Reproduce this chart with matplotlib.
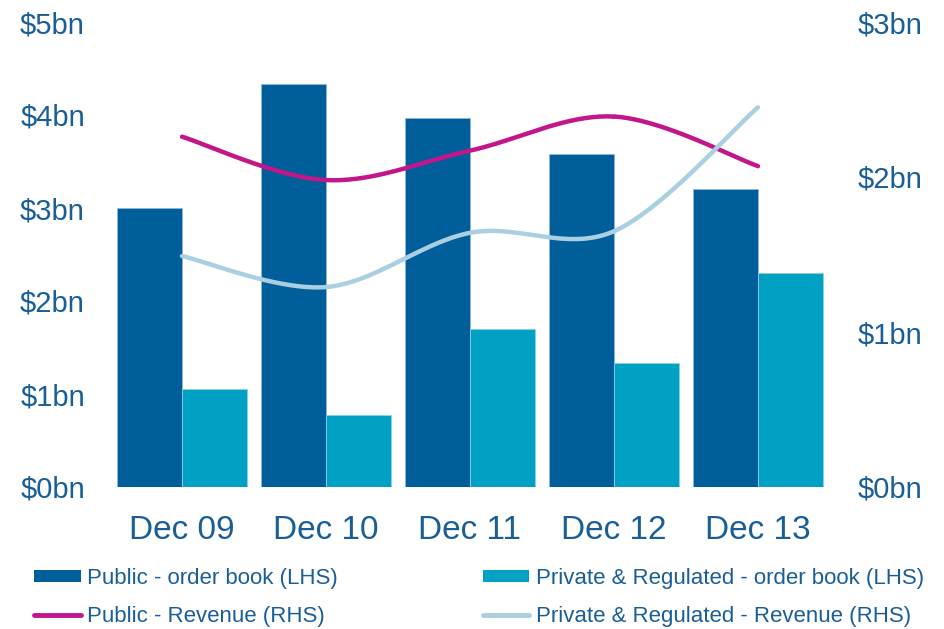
import numpy as np
import matplotlib
matplotlib.use("Agg")
import matplotlib.pyplot as plt
from matplotlib.patches import Patch
from matplotlib.lines import Line2D

categories = ["Dec 09", "Dec 10", "Dec 11", "Dec 12", "Dec 13"]
public_order_book = [3.00, 4.33, 3.97, 3.58, 3.20]
private_order_book = [1.05, 0.77, 1.70, 1.33, 2.30]
public_revenue = [2.26, 1.98, 2.17, 2.39, 2.07]
private_revenue = [1.49, 1.29, 1.64, 1.65, 2.45]
left_ticks = [0, 1, 2, 3, 4, 5]
left_labels = ["$0bn", "$1bn", "$2bn", "$3bn", "$4bn", "$5bn"]
right_ticks = [0, 1, 2, 3]
right_labels = ["$0bn", "$1bn", "$2bn", "$3bn"]

C_PUB = "#005E9A"
C_PRI = "#00A1C3"
C_PUBREV = "#C2168B"
C_PRIREV = "#A9CFE0"
C_TEXT = "#1A5E98"

plt.rcParams["font.family"] = ["Liberation Sans", "DejaVu Sans"]

def catmull_rom(x, y, n=40):
    x = np.asarray(x, float); y = np.asarray(y, float)
    px = np.concatenate([[x[0]], x, [x[-1]]])
    py = np.concatenate([[y[0]], y, [y[-1]]])
    xs, ys = [], []
    for i in range(1, len(px) - 2):
        t = np.linspace(0, 1, n)
        for arr, out in ((px, xs), (py, ys)):
            p0, p1, p2, p3 = arr[i - 1], arr[i], arr[i + 1], arr[i + 2]
            out.append(0.5 * ((2 * p1) + (-p0 + p2) * t + (2 * p0 - 5 * p1 + 4 * p2 - p3) * t ** 2
                              + (-p0 + 3 * p1 - 3 * p2 + p3) * t ** 3))
    return np.concatenate(xs), np.concatenate(ys)

fig = plt.figure(figsize=(9.44, 6.29), dpi=100)
ax = fig.add_axes([110 / 944, 1 - 487 / 629, 720 / 944, 465 / 629])
x = np.arange(len(categories))
w = 0.45
ax.bar(x - w / 2, public_order_book, w, color=C_PUB, edgecolor="#8FB8D8", linewidth=0.6, zorder=2)
ax.bar(x + w / 2, private_order_book, w, color=C_PRI, edgecolor="#8FD0E0", linewidth=0.6, zorder=2)
ax.set_xlim(-0.5, len(categories) - 0.5)
ax.set_ylim(0, 5)
ax.set_yticks(left_ticks)
ax.set_yticklabels(left_labels)
ax.set_xticks(x)
ax.set_xticklabels(categories)
ax.tick_params(axis="y", length=0, pad=18, labelsize=21, labelcolor=C_TEXT)
ax.tick_params(axis="x", length=0, pad=20, labelsize=24, labelcolor=C_TEXT)
for s in ax.spines.values():
    s.set_visible(False)

ax2 = ax.twinx()
ax2.set_ylim(0, 3)
ax2.set_yticks(right_ticks)
ax2.set_yticklabels(right_labels)
ax2.tick_params(axis="y", length=0, pad=20, labelsize=21, labelcolor=C_TEXT)
for s in ax2.spines.values():
    s.set_visible(False)
sx, sy = catmull_rom(x, public_revenue)
ax2.plot(sx, sy, color=C_PUBREV, lw=3.2, solid_capstyle="round", zorder=3)
sx, sy = catmull_rom(x, private_revenue)
ax2.plot(sx, sy, color=C_PRIREV, lw=3.2, solid_capstyle="round", zorder=3)

handles = [
    Patch(facecolor=C_PUB, edgecolor="none"),
    Line2D([], [], color=C_PUBREV, lw=3.5, solid_capstyle="round"),
    Patch(facecolor=C_PRI, edgecolor="none"),
    Line2D([], [], color=C_PRIREV, lw=3.5, solid_capstyle="round"),
]
labels = ["Public - order book (LHS)", "Public - Revenue (RHS)",
          "Private & Regulated - order book (LHS)", "Private & Regulated - Revenue (RHS)"]
leg = fig.legend(handles, labels, ncol=2, loc="upper left",
                 bbox_to_anchor=(14 / 944, 1 - 548 / 629), frameon=False,
                 fontsize=16, labelcolor=C_TEXT, handlelength=2.1, handleheight=0.5,
                 handletextpad=0.3, columnspacing=6.5, labelspacing=0.75)

fig.savefig("out.png", dpi=100)
